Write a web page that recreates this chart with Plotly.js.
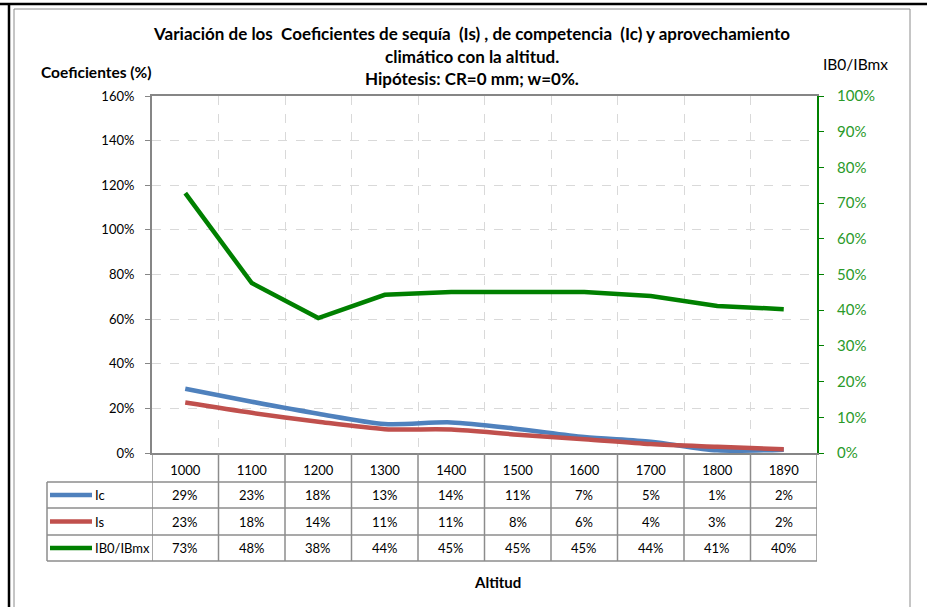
<!DOCTYPE html>
<html>
<head>
<meta charset="utf-8">
<script src="https://cdn.plot.ly/plotly-3.0.1.min.js"></script>
<style>html,body{margin:0;padding:0;background:#fff;}#chart{width:927px;height:607px;}</style>
</head>
<body>
<div id="chart"></div>
<script>
// ---- data ----
const altitudes = ["1000","1100","1200","1300","1400","1500","1600","1700","1800","1890"];
const seriesNames = ["Ic","Is","IB0/IBmx"];
const icValues = [0.288, 0.23, 0.176, 0.13, 0.137, 0.108, 0.072, 0.051, 0.012, 0.015];
const isValues = [0.226, 0.18, 0.14, 0.107, 0.105, 0.082, 0.062, 0.04, 0.028, 0.017];
const ibValues = [0.728, 0.476, 0.378, 0.443, 0.451, 0.451, 0.451, 0.440, 0.412, 0.403];
const titleLines = ["Variación de los  Coeficientes de sequía  (Is) , de competencia  (Ic) y aprovechamiento",
                    "climático con la altitud.",
                    "Hipótesis: CR=0 mm; w=0%."];
const leftAxisTitle = "Coeficientes (%)";
const rightAxisTitle = "IB0/IBmx";
const xAxisTitle = "Altitud";

// ---- style / geometry ----
const FONT = "Lato, 'Open Sans', sans-serif";
const colors = ["#4F81BD", "#C0504D", "#008000"];
const PL = 152, PR = 817, PT = 96, PB = 453, W = 927, H = 607;
const fx = px => (px - PL) / (PR - PL);
const fy = py => (PB - py) / (PB - PT);
const tableGrey = "#8c8c8c";
const TITLE_SIZE = 17;

const traces = [
  {x: altitudes, y: icValues, name: seriesNames[0], type: "scatter", mode: "lines",
   line: {color: colors[0], width: 4.5, shape: "spline", smoothing: 0.8}, yaxis: "y"},
  {x: altitudes, y: isValues, name: seriesNames[1], type: "scatter", mode: "lines",
   line: {color: colors[1], width: 4.5, shape: "spline", smoothing: 0.8}, yaxis: "y"},
  {x: altitudes, y: ibValues, name: seriesNames[2], type: "scatter", mode: "lines",
   line: {color: colors[2], width: 4.5}, yaxis: "y2"}
];

const shapes = [];
const annotations = [];

// outer frame: black lines + grey chart border
shapes.push({type: "line", xref: "paper", yref: "paper", x0: fx(0), x1: fx(W), y0: fy(4), y1: fy(4),
             line: {color: "#000", width: 2.5}, layer: "above"});
shapes.push({type: "line", xref: "paper", yref: "paper", x0: fx(9), x1: fx(9), y0: fy(4), y1: fy(H + 5),
             line: {color: "#000", width: 2.5}, layer: "above"});
shapes.push({type: "rect", xref: "paper", yref: "paper", x0: fx(14), x1: fx(910), y0: fy(9), y1: fy(H + 10),
             line: {color: "#8c8c8c", width: 1}, layer: "below"});

// data table grid
const rowLines = [482, 508, 535, 561];
rowLines.forEach(py => shapes.push({type: "line", xref: "paper", yref: "paper", x0: fx(47), x1: 1, y0: fy(py), y1: fy(py),
  line: {color: tableGrey, width: 1.5}}));
for (let i = 0; i <= altitudes.length; i++) {
  shapes.push({type: "line", xref: "x", yref: "paper", x0: i - 0.5, x1: i - 0.5, y0: fy(PB), y1: fy(561),
    line: {color: tableGrey, width: 1.5}});
}
shapes.push({type: "line", xref: "paper", yref: "paper", x0: fx(47), x1: fx(47), y0: fy(482), y1: fy(561),
  line: {color: tableGrey, width: 1.5}});

// table rows
const rowCenters = [495, 521.5, 548];
const allValues = [icValues, isValues, ibValues];
allValues.forEach((vals, r) => {
  const yc = fy(rowCenters[r]);
  shapes.push({type: "line", xref: "paper", yref: "paper", x0: fx(50), x1: fx(92), y0: yc, y1: yc,
    line: {color: colors[r], width: 4.5}});
  annotations.push({xref: "paper", yref: "paper", x: fx(93), y: yc, xanchor: "left", yanchor: "middle",
    text: seriesNames[r], showarrow: false, font: {family: FONT, size: 13, color: "#000"}});
  vals.forEach((v, i) => annotations.push({xref: "x", yref: "paper", x: i, y: yc,
    xanchor: "center", yanchor: "middle", text: Math.round(v * 100) + "%", showarrow: false,
    font: {family: FONT, size: 13, color: "#000"}}));
});

// title lines 2-3, axis titles
annotations.push({xref: "paper", yref: "paper", x: fx(472), y: fy(57), xanchor: "center", yanchor: "middle",
  text: "<b>" + titleLines[1] + "</b>", showarrow: false, font: {family: FONT, size: TITLE_SIZE, color: "#000"}});
annotations.push({xref: "paper", yref: "paper", x: fx(472), y: fy(79), xanchor: "center", yanchor: "middle",
  text: "<b>" + titleLines[2] + "</b>", showarrow: false, font: {family: FONT, size: TITLE_SIZE, color: "#000"}});
annotations.push({xref: "paper", yref: "paper", x: fx(96), y: fy(72), xanchor: "center", yanchor: "middle",
  text: "<b>" + leftAxisTitle + "</b>", showarrow: false, font: {family: FONT, size: 15.5, color: "#000"}});
annotations.push({xref: "paper", yref: "paper", x: fx(855), y: fy(64), xanchor: "center", yanchor: "middle",
  text: rightAxisTitle, showarrow: false, font: {family: FONT, size: 15.5, color: "#000"}});
annotations.push({xref: "paper", yref: "paper", x: fx(497), y: fy(582), xanchor: "center", yanchor: "middle",
  text: "<b>" + xAxisTitle + "</b>", showarrow: false, font: {family: FONT, size: 15, color: "#000"}});

const layout = {
  width: W, height: H,
  margin: {l: PL, r: W - PR, t: PT, b: H - PB, pad: 0},
  paper_bgcolor: "#fff", plot_bgcolor: "#fff",
  showlegend: false,
  title: {text: "<b>" + titleLines[0] + "</b>", xref: "container", x: 472 / W, xanchor: "center",
          yref: "container", y: 1 - 34 / H, yanchor: "middle", font: {family: FONT, size: TITLE_SIZE, color: "#000"}},
  font: {family: FONT, size: 13, color: "#000"},
  xaxis: {type: "category", range: [-0.5, altitudes.length - 0.5], tickson: "boundaries",
          showgrid: true, gridcolor: "#d9d9d9", griddash: "dash", gridwidth: 1,
          showline: true, linecolor: "#868686", linewidth: 2, mirror: true,
          ticks: "", ticklabelstandoff: 4, tickfont: {family: FONT, size: 13, color: "#000"},
          zeroline: false, fixedrange: true},
  yaxis: {range: [0, 1.6], dtick: 0.2, tickformat: ".0%", showgrid: true, gridcolor: "#d9d9d9",
          griddash: "dash", gridwidth: 1, showline: true, linecolor: "#868686", linewidth: 2,
          ticks: "outside", ticklen: 5, tickcolor: "#868686", ticklabelstandoff: 8,
          tickfont: {family: FONT, size: 13, color: "#000"}, zeroline: false},
  yaxis2: {range: [0, 1], dtick: 0.1, tickformat: ".0%", overlaying: "y", side: "right",
           showgrid: false, showline: true, linecolor: "#008000", linewidth: 2,
           ticks: "outside", ticklen: 5, tickcolor: "#008000", ticklabelstandoff: 10,
           tickfont: {family: FONT, size: 15, color: "#2a9a2a"}, zeroline: false},
  shapes: shapes,
  annotations: annotations
};

Plotly.newPlot("chart", traces, layout, {displayModeBar: false, staticPlot: true});
</script>
</body>
</html>
